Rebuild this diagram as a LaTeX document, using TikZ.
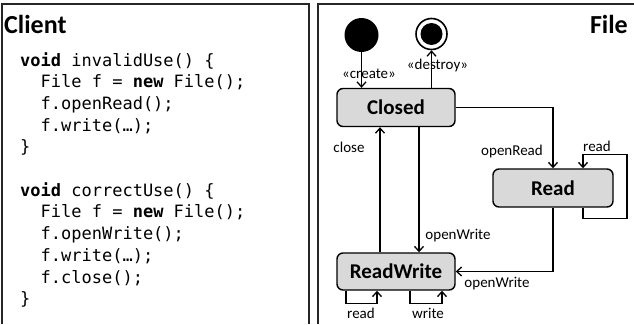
\documentclass[tikz,border=0pt]{standalone}
\usepackage{fontspec}
\setmainfont{Carlito}
\setmonofont{DejaVu Sans Mono}
\usetikzlibrary{arrows.meta,calc}
\newcommand\myind{\hphantom{xx}}
\tikzset{
  panel/.style={line width=2pt,draw=black!85},
  state/.style={draw=black,line width=1.4pt,fill=black!15,rounded corners=6pt,
    minimum width=118pt,minimum height=38pt,inner sep=0pt,font=\fontsize{21}{24}\selectfont\bfseries},
  arr/.style={line width=1.3pt,-{Straight Barb[length=5pt,width=9pt]}},
  lbl/.style={font=\fontsize{15}{17}\selectfont,inner sep=0pt},
  ttl/.style={font=\fontsize{26}{30}\selectfont\bfseries,inner sep=0pt},
  code/.style={anchor=base west,inner sep=0pt,font=\ttfamily\fontsize{17}{20}\selectfont},
}
\begin{document}
\begin{tikzpicture}[x=1pt,y=-1pt]
\useasboundingbox (0,0) rectangle (634,324);
% panels
\draw[panel] (2,324) -- (2,4) -- (308.5,4) -- (308.5,324);
\draw[panel] (318,324) -- (318,4) -- (634,4);
% titles
\node[ttl,anchor=base west] (tclient) at (4,33) {Client};
\node[ttl,anchor=base east] (tfile) at (628,33) {File};
% code
\node[code] (c1)  at (20,66)    {\textbf{void} invalidUse() \{};
\node[code] (c2)  at (20,87.7)  {\myind File f = \textbf{new} File();};
\node[code] (c3)  at (20,109.4) {\myind f.openRead();};
\node[code] (c4)  at (20,131.1) {\myind f.write(…);};
\node[code] (c5)  at (20,152.8) {\}};
\node[code] (c7)  at (20,196.2) {\textbf{void} correctUse() \{};
\node[code] (c8)  at (20,217.9) {\myind File f = \textbf{new} File();};
\node[code] (c9)  at (20,239.6) {\myind f.openWrite();};
\node[code] (c10) at (20,261.3) {\myind f.write(…);};
\node[code] (c11) at (20,283)   {\myind f.close();};
\node[code] (c12) at (20,304.7) {\}};
% pseudostates
\node[circle,fill=black,minimum size=34pt,inner sep=0pt] (init) at (361.5,35) {};
\node[circle,draw=black,line width=1.6pt,minimum size=31pt,inner sep=0pt] (final) at (431.5,34) {};
\node[circle,fill=black,minimum size=22pt,inner sep=0pt] (finalin) at (final.center) {};
% states
\node[state] (closed) at (396,107.5) {Closed};
\node[state,minimum width=120pt] (read) at (553,188) {Read};
\node[state,minimum height=37pt] (rw) at (396,271.5) {ReadWrite};
% transitions
\draw[arr] (init.south) -- (init.south |- closed.north);
\draw[arr] (final.south |- closed.north) -- (final.south);
\draw[arr] ([xshift=-16pt]rw.north) -- ([xshift=-16pt]closed.south);
\draw[arr] ([xshift=23pt]closed.south) -- ([xshift=23pt]rw.north);
\draw[arr] (closed.east) -| (read.north);
\draw[arr] ([xshift=30pt]read.south) -- ++(0,11) -- ++(44,0) -- ++(0,-64) -- ++(-44,0) -- ([xshift=30pt]read.north);
\draw[arr] (read.south) |- (rw.east);
\draw[arr] ([xshift=-50pt]rw.south) -- ++(0,13) -- ++(31,0) -- ([xshift=-19pt]rw.south);
\draw[arr] ([xshift=14pt]rw.south) -- ++(0,13) -- ++(32,0) -- ([xshift=46pt]rw.south);
% labels
\node[lbl] (lcreate) at (369,74) {«create»};
\node[lbl] (ldestroy) at (437.5,66) {«destroy»};
\node[lbl] (lclose) at (349,147) {close};
\node[lbl] (lopenread) at (512,151) {openRead};
\node[lbl] (lreadloop) at (597,146) {read};
\node[lbl] (lopenwrite1) at (458,236) {openWrite};
\node[lbl] (lopenwrite2) at (497,284) {openWrite};
\node[lbl] (lread2) at (361,313) {read};
\node[lbl] (lwrite) at (428,313) {write};
\end{tikzpicture}
\end{document}
